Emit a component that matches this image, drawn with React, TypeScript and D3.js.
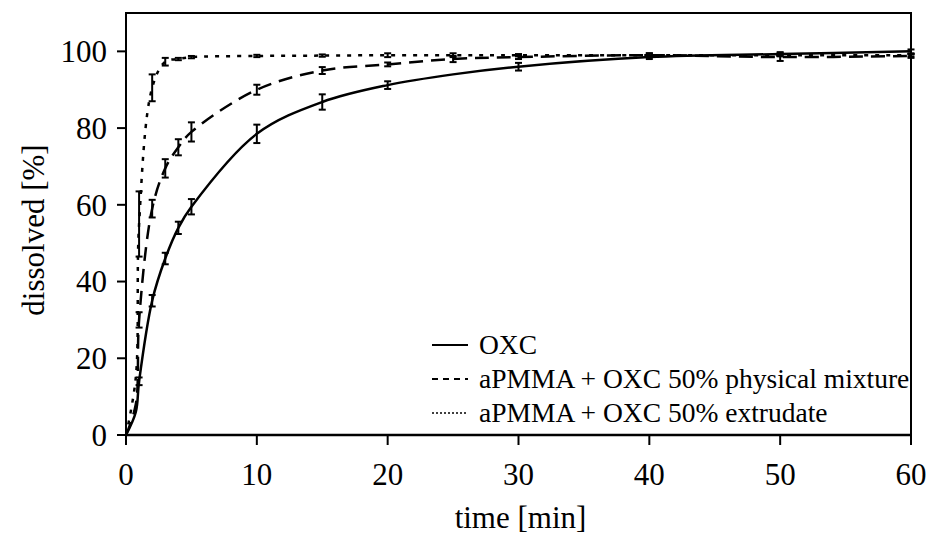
import React from "react";
import * as d3 from "d3";

const times = [0, 0.75, 1, 2, 3, 4, 5, 10, 15, 20, 25, 30, 40, 50, 60];
const oxc = [0, 6, 14, 35, 46, 54, 59.5, 78.5, 86.8, 91.2, 94, 96, 98.5, 99.3, 100];
const oxcErr = [0, 0, 1, 1.5, 1.5, 1.6, 2, 2.4, 2, 1, 0, 1, 0.5, 0.5, 0.5];
const physMix = [0, 8, 30, 59, 69.5, 75, 79, 90, 95, 96.6, 98, 98.5, 99, 98.5, 98.8];
const physMixErr = [0, 0, 2, 2.3, 2.4, 2.1, 2.5, 1.3, 0.9, 0.5, 0.8, 0.5, 0.5, 1, 0.5];
const extrudate = [0, 15, 55, 90.5, 97.3, 98, 98.5, 98.8, 98.9, 99, 99, 99, 99, 99, 99];
const extrudateErr = [0, 0, 8.5, 3.5, 1, 0.3, 0.3, 0.3, 0.3, 0.5, 0.5, 0.3, 0.5, 0.3, 0.3];

const xTicks = [0, 10, 20, 30, 40, 50, 60];
const yTicks = [0, 20, 40, 60, 80, 100];
const seriesNames = ["OXC", "aPMMA + OXC 50% physical mixture", "aPMMA + OXC 50% extrudate"];

const W = 930;
const H = 552;
const L = 126, R = 911, T = 13, B = 435;
const FONT = "Liberation Serif, Times New Roman, Times, serif";

const styles = [
  { dash: "none", width: 2.5 },
  { dash: "14,8", width: 2.5 },
  { dash: "4,7", width: 2.5 },
];

export default function App() {
  const x = d3.scaleLinear().domain([0, 60]).range([L, R]);
  const y = d3.scaleLinear().domain([0, 110]).range([B, T]);
  const line = d3
    .line<[number, number]>()
    .x((d) => x(d[0]))
    .y((d) => y(d[1]))
    .curve(d3.curveCatmullRom.alpha(0.5));

  const series = [
    { vals: oxc, err: oxcErr },
    { vals: physMix, err: physMixErr },
    { vals: extrudate, err: extrudateErr },
  ];

  const txt = { fontFamily: FONT, fill: "#000" } as React.CSSProperties;

  return (
    <svg
      width={W}
      height={H}
      style={{ position: "absolute", left: 0, top: 0, background: "#fff" }}
    >
      <rect x={0} y={0} width={W} height={H} fill="#fff" />
      {/* frame */}
      <rect x={L} y={T} width={R - L} height={B - T} fill="none" stroke="#000" strokeWidth={2} />
      <line x1={L - 1} x2={R + 1} y1={B} y2={B} stroke="#000" strokeWidth={2.5} />

      {/* series */}
      {series.map((s, i) => {
        const pts: [number, number][] = times.map((t, k) => [t, s.vals[k]]);
        return (
          <g key={i}>
            <path
              d={line(pts) || ""}
              fill="none"
              stroke="#000"
              strokeWidth={styles[i].width}
              strokeDasharray={styles[i].dash}
            />
            {times.map((t, k) =>
              s.err[k] > 0 ? (
                <g key={k} stroke="#000" strokeWidth={2}>
                  <line x1={x(t)} x2={x(t)} y1={y(s.vals[k] - s.err[k])} y2={y(s.vals[k] + s.err[k])} />
                  <line x1={x(t) - 3.5} x2={x(t) + 3.5} y1={y(s.vals[k] - s.err[k])} y2={y(s.vals[k] - s.err[k])} />
                  <line x1={x(t) - 3.5} x2={x(t) + 3.5} y1={y(s.vals[k] + s.err[k])} y2={y(s.vals[k] + s.err[k])} />
                </g>
              ) : null
            )}
          </g>
        );
      })}

      {/* y ticks */}
      {yTicks.map((v) => (
        <g key={v}>
          <line x1={L - 9} x2={L} y1={y(v)} y2={y(v)} stroke="#000" strokeWidth={2} />
          <text x={107} y={y(v)} dy="0.35em" textAnchor="end" fontSize={31} style={txt}>
            {v}
          </text>
        </g>
      ))}
      {/* x ticks */}
      {xTicks.map((v) => (
        <g key={v}>
          <line x1={x(v)} x2={x(v)} y1={B} y2={B + 10} stroke="#000" strokeWidth={2} />
          <text x={x(v)} y={485} textAnchor="middle" fontSize={31} style={txt}>
            {v}
          </text>
        </g>
      ))}

      <text x={(L + R) / 2 + 2} y={528} textAnchor="middle" fontSize={31} style={txt}>
        time [min]
      </text>
      <text
        transform={`translate(44, ${(T + B) / 2 + 6}) rotate(-90)`}
        textAnchor="middle"
        fontSize={31}
        style={txt}
      >
        dissolved [%]
      </text>

      {/* legend */}
      {seriesNames.map((name, i) => {
        const ly = 345 + i * 34;
        return (
          <g key={name}>
            <line
              x1={432}
              x2={468}
              y1={ly}
              y2={ly}
              stroke="#000"
              strokeWidth={i === 2 ? 1.5 : 2}
              strokeDasharray={i === 0 ? "none" : i === 1 ? "6,5" : "2,2"}
            />
            <text x={479} y={ly} dy="0.33em" fontSize={27.5} style={txt}>
              {name}
            </text>
          </g>
        );
      })}
    </svg>
  );
}
